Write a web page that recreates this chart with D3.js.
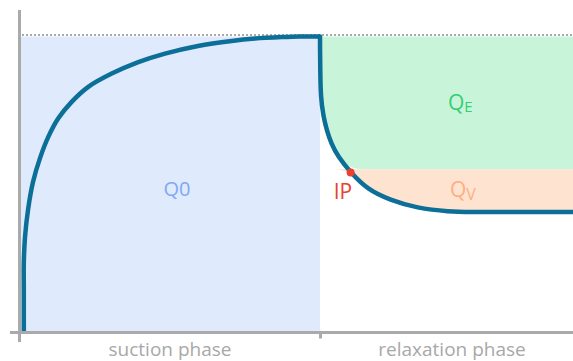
<!DOCTYPE html>
<html>
<head>
<meta charset="utf-8">
<script src="https://cdn.jsdelivr.net/npm/d3@7"></script>
<style>
  html, body { margin: 0; padding: 0; background: #fff; }
  svg { display: block; }
  text { font-family: "Open Sans", "Noto Sans", sans-serif; }
</style>
</head>
<body>
<svg id="chart" width="573" height="361"></svg>
<script>
// Suction phase: time (s) and uptake (% of Q0)
const suctionT = [1.27, 1.27, 1.27, 1.67, 2.67, 4.33, 6.67, 9.43, 12.77, 17.23, 22.77, 30.57, 39.43, 48.33, 59.33, 70.57, 78.33, 87.33, 93.33, 100];
const suctionV = [0, 13.9, 23.1, 31.9, 41.1, 50.6, 58.7, 65.9, 72.2, 77.8, 82.9, 87.4, 91.3, 94.2, 96.8, 98.5, 99.3, 99.8, 100, 100];
// Relaxation phase
const relaxT = [100, 100, 100.1, 100.23, 101.1, 102.3, 103.7, 106, 110.2, 116, 123.3, 132.2, 143.3, 150, 160, 184.4];
const relaxV = [100, 96, 88.0, 79.6, 72.9, 68.0, 63.8, 59.2, 53.8, 47.9, 44.5, 41.7, 40.5, 40.4, 40.4, 40.4];
// Inflection point and level separating Q_E / Q_V
const ipPoint = [110.2, 53.8];
const qvLevel = 54.9;
const phaseLabels = ["suction phase", "relaxation phase"];
const phaseCenters = [50, 144];
const phaseBounds = [0, 100];

const svg = d3.select("#chart");
const x = d3.scaleLinear().domain([0, 184.33]).range([20, 573]);
const y = d3.scaleLinear().domain([0, 100]).range([331, 36.5]);

const relax = relaxT.map((t, i) => ({t, v: relaxV[i]}));
const suction = suctionT.map((t, i) => ({t, v: suctionV[i]}));

// dotted reference line at Q0
svg.append("line")
  .attr("x1", x(0) + 2).attr("x2", 573)
  .attr("y1", y(100) - 1.5).attr("y2", y(100) - 1.5)
  .attr("stroke", "#aaaaaa").attr("stroke-width", 2)
  .attr("stroke-dasharray", "2,2");

// Q0 region
svg.append("rect")
  .attr("x", x(0)).attr("y", y(100))
  .attr("width", x(100) - x(0)).attr("height", y(0) - y(100))
  .attr("fill", "#dfeafd");

// Q_E region
svg.append("path")
  .attr("fill", "#c8f5da")
  .attr("d", d3.area().curve(d3.curveBasis).x(d => x(d.t)).y0(d => y(Math.max(d.v, qvLevel))).y1(y(100))(relax));

// Q_V region
svg.append("path")
  .attr("fill", "#fee3d0")
  .attr("d", d3.area().curve(d3.curveBasis).x(d => x(d.t)).y0(d => y(Math.min(d.v, qvLevel))).y1(y(qvLevel))(relax));

// axes
const axisColor = "#aaaaaa";
const xAxis = d3.axisBottom(x).tickValues([phaseBounds[1]]).tickSize(6).tickFormat("");
const gx = svg.append("g").attr("transform", `translate(0,${y(0) + 1.5})`).call(xAxis);
gx.select(".domain").remove();
gx.selectAll(".tick line").attr("stroke", axisColor).attr("stroke-width", 3);
svg.append("line")
  .attr("x1", 10).attr("x2", 573)
  .attr("y1", y(0) + 1.5).attr("y2", y(0) + 1.5)
  .attr("stroke", axisColor).attr("stroke-width", 3);
svg.append("line")
  .attr("x1", x(0) - 0.5).attr("x2", x(0) - 0.5)
  .attr("y1", 10).attr("y2", 342)
  .attr("stroke", axisColor).attr("stroke-width", 3);

// curve
const suctionLine = d3.line().x(d => x(d.t)).y(d => y(d.v)).curve(d3.curveCatmullRom.alpha(0.5));
const relaxLine = d3.line().x(d => x(d.t)).y(d => y(d.v)).curve(d3.curveBasis);
svg.append("path")
  .attr("fill", "none").attr("stroke", "#0b6f98").attr("stroke-width", 4.5)
  .attr("d", suctionLine(suction));
svg.append("path")
  .attr("fill", "none").attr("stroke", "#0b6f98").attr("stroke-width", 4.5)
  .attr("stroke-linecap", "round")
  .attr("d", relaxLine(relax));

// IP dot
svg.append("circle")
  .attr("cx", x(ipPoint[0])).attr("cy", y(ipPoint[1])).attr("r", 4)
  .attr("fill", "#e8412f");

// labels
svg.append("text").attr("x", 177).attr("y", 195.5)
  .attr("text-anchor", "middle").attr("font-size", 20).attr("fill", "#80a8f6").text("Q0");

const qe = svg.append("text").attr("x", 448).attr("y", 110).attr("font-size", 21).attr("fill", "#33cf70");
qe.append("tspan").text("Q");
qe.append("tspan").attr("font-size", 15).attr("dy", 2).text("E");

const qv = svg.append("text").attr("x", 450).attr("y", 197).attr("font-size", 21).attr("fill", "#ffae80");
qv.append("tspan").text("Q");
qv.append("tspan").attr("font-size", 16).attr("dy", 3).text("V");

svg.append("text").attr("x", 343).attr("y", 198.5)
  .attr("text-anchor", "middle").attr("font-size", 21).attr("fill", "#e8412f").text("IP");

svg.selectAll("text.phase")
  .data(phaseLabels)
  .join("text")
  .attr("class", "phase")
  .attr("x", (d, i) => x(phaseCenters[i]))
  .attr("y", 355.5)
  .attr("text-anchor", "middle")
  .attr("font-size", 19)
  .attr("fill", "#a8a8a8")
  .text(d => d);
</script>
</body>
</html>
